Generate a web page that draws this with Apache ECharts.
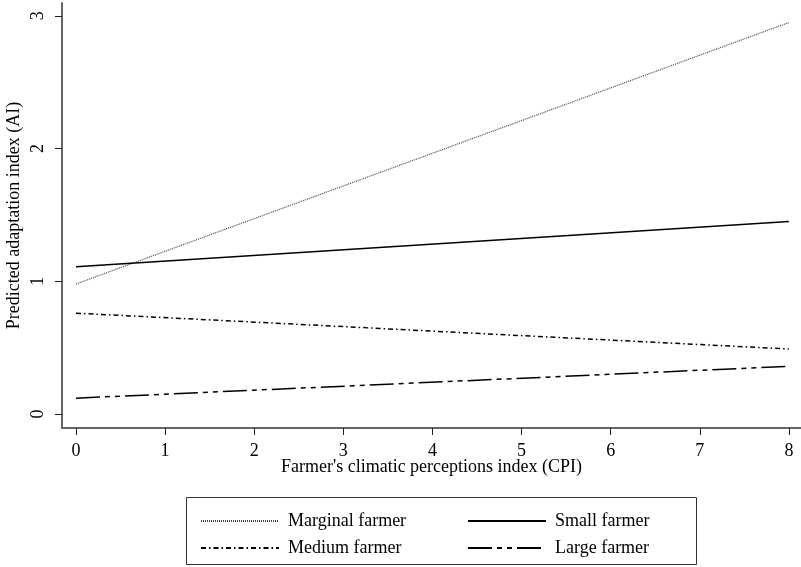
<!DOCTYPE html>
<html>
<head>
<meta charset="utf-8">
<script src="https://cdn.jsdelivr.net/npm/echarts@6/dist/echarts.min.js"></script>
<style>
  html, body { margin: 0; padding: 0; background: #fff; }
  #chart { width: 801px; height: 567px; }
</style>
</head>
<body>
<div id="chart"></div>
<script>
// CPI end points and predicted AI for each farm size
var cpiPoints = [0, 8];
var marginal = [0.98, 2.95];
var small = [1.11, 1.45];
var medium = [0.76, 0.49];
var large = [0.12, 0.36];
var xTicks = [0, 1, 2, 3, 4, 5, 6, 7, 8];
var yTicks = [0, 1, 2, 3];

function pairs(ys) {
  return cpiPoints.map(function (x, i) { return [x, ys[i]]; });
}

var font = 'Liberation Serif';
var axisColor = '#666';

var myChart = echarts.init(document.getElementById('chart'));
myChart.setOption({
  animation: false,
  grid: { left: 62, right: 0, top: 3, bottom: 139, containLabel: false, outerBoundsMode: 'none' },
  xAxis: {
    type: 'value',
    min: -0.157,
    max: 8.136,
    splitLine: { show: false },
    axisLine: { onZero: false, lineStyle: { color: axisColor, width: 2 } },
    axisTick: { customValues: xTicks, length: 7, lineStyle: { color: '#222', width: 1 } },
    axisLabel: { customValues: xTicks, fontFamily: font, fontSize: 18, color: '#000', margin: 14 },
    name: "Farmer's climatic perceptions index (CPI)",
    nameLocation: 'middle',
    nameGap: 30,
    nameMoveOverlap: false,
    nameTextStyle: { fontFamily: font, fontSize: 18, color: '#000' }
  },
  yAxis: {
    type: 'value',
    min: -0.105,
    max: 3.097,
    splitLine: { show: false },
    axisLine: { onZero: false, lineStyle: { color: axisColor, width: 2 } },
    axisTick: { customValues: yTicks, length: 7, lineStyle: { color: '#222', width: 1 } },
    axisLabel: { customValues: yTicks, rotate: 90, fontFamily: font, fontSize: 18, color: '#000', margin: 15 },
    name: 'Predicted adaptation index (AI)',
    nameLocation: 'middle',
    nameGap: 39,
    nameMoveOverlap: false,
    nameTextStyle: { fontFamily: font, fontSize: 18, color: '#000' }
  },
  legend: [
    {
      left: 195, top: 507, orient: 'vertical', itemWidth: 78, itemHeight: 10, itemGap: 9,
      itemStyle: { opacity: 0 },
      textStyle: { fontFamily: font, fontSize: 18, color: '#000', padding: [0, 0, 0, 4] },
      data: ['Marginal farmer', 'Medium farmer']
    },
    {
      left: 462, top: 507, orient: 'vertical', itemWidth: 78, itemHeight: 10, itemGap: 9,
      itemStyle: { opacity: 0 },
      textStyle: { fontFamily: font, fontSize: 18, color: '#000', padding: [0, 0, 0, 4] },
      data: ['Small farmer', 'Large farmer']
    }
  ],
  graphic: [{
    type: 'rect',
    shape: { x: 186.5, y: 497.5, width: 510, height: 67 },
    style: { fill: 'none', stroke: '#333', lineWidth: 1 }
  }],
  series: [
    { name: 'Marginal farmer', type: 'line', symbol: 'none', data: pairs(marginal),
      lineStyle: { color: '#444', width: 1.2, type: [1, 1] }, itemStyle: { color: '#444' } },
    { name: 'Small farmer', type: 'line', symbol: 'none', data: pairs(small),
      lineStyle: { color: '#000', width: 1.5, type: 'solid' }, itemStyle: { color: '#000' } },
    { name: 'Medium farmer', type: 'line', symbol: 'none', data: pairs(medium),
      lineStyle: { color: '#000', width: 1.5, type: [5, 3, 1.5, 3] }, itemStyle: { color: '#000' } },
    { name: 'Large farmer', type: 'line', symbol: 'none', data: pairs(large),
      lineStyle: { color: '#000', width: 1.5, type: [24, 5, 5, 5, 5, 5] }, itemStyle: { color: '#000' } }
  ]
});
</script>
</body>
</html>
